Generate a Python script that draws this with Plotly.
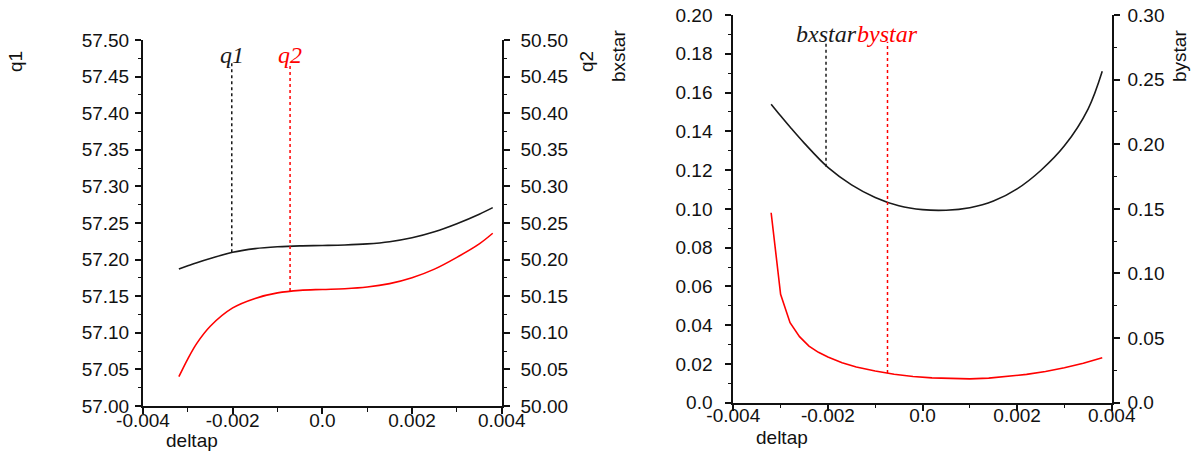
import numpy as np
import plotly.graph_objects as go

# ---------------- data ----------------
deltap = [-0.0032, -0.003, -0.0028, -0.0025, -0.002, -0.0015, -0.001, -0.0005,
          0.0, 0.0005, 0.001, 0.0015, 0.002, 0.0025, 0.003, 0.0035, 0.0038]
q1 = [57.187, 57.1915, 57.1958, 57.2015, 57.2100, 57.2150, 57.2175, 57.2188,
      57.2193, 57.2200, 57.2215, 57.2245, 57.2298, 57.238, 57.249, 57.262, 57.271]
q2 = [50.040, 50.0645, 50.0856, 50.109, 50.134, 50.147, 50.1545, 50.158,
      50.1592, 50.1602, 50.1625, 50.1672, 50.1752, 50.187, 50.2031, 50.2215, 50.236]
bxstar = [0.1540, 0.1480, 0.1422, 0.1339, 0.1214, 0.1124, 0.1059, 0.1016,
          0.0996, 0.0993, 0.1006, 0.1040, 0.1103, 0.1198, 0.1325, 0.1515, 0.1710]

deltap_by = [-0.0032, -0.003, -0.0028, -0.0026, -0.0024, -0.0022, -0.002, -0.0017,
             -0.0014, -0.001, -0.0006, -0.0002, 0.0002, 0.0006, 0.001, 0.0014,
             0.0018, 0.0022, 0.0026, 0.003, 0.0034, 0.0038]
bystar = [0.1470, 0.0839, 0.0619, 0.0511, 0.0438, 0.0390, 0.0353, 0.0310,
          0.0276, 0.0245, 0.0220, 0.0203, 0.0192, 0.0186, 0.0184, 0.0190,
          0.0202, 0.0219, 0.0242, 0.0270, 0.0305, 0.0348]

# label drop lines: x position, bottom (on curve), top (under label)
q_drop_x = [-0.00202, -0.00072]
q_drop_bottom = [57.210, 50.157]
q_drop_top = [57.469, 50.469]
q_labels = ["q1", "q2"]

b_drop_x = [-0.00204, -0.00074]
b_drop_bottom = [0.1217, 0.0229]
b_drop_top = [0.1862, 0.2793]
b_labels = ["bxstar", "bystar"]

x_tickvals = [-0.004, -0.002, 0.0, 0.002, 0.004]
x_ticktext = ["-0.004", "-0.002", "0.0", "0.002", "0.004"]
q1_tickvals = [57.00, 57.05, 57.10, 57.15, 57.20, 57.25, 57.30, 57.35, 57.40, 57.45, 57.50]
q1_ticktext = ["57.00", "57.05", "57.10", "57.15", "57.20", "57.25", "57.30", "57.35", "57.40", "57.45", "57.50"]
q2_tickvals = [50.00, 50.05, 50.10, 50.15, 50.20, 50.25, 50.30, 50.35, 50.40, 50.45, 50.50]
q2_ticktext = ["50.00", "50.05", "50.10", "50.15", "50.20", "50.25", "50.30", "50.35", "50.40", "50.45", "50.50"]
bx_tickvals = [0.0, 0.02, 0.04, 0.06, 0.08, 0.10, 0.12, 0.14, 0.16, 0.18, 0.20]
bx_ticktext = ["0.0", "0.02", "0.04", "0.06", "0.08", "0.10", "0.12", "0.14", "0.16", "0.18", "0.20"]
by_tickvals = [0.0, 0.05, 0.10, 0.15, 0.20, 0.25, 0.30]
by_ticktext = ["0.0", "0.05", "0.10", "0.15", "0.20", "0.25", "0.30"]

# ---------------- figure ----------------
W, H = 1196, 452
BLACK = "#1a1a1a"
RED = "#ff0000"
SANS = "Liberation Sans, Arial, sans-serif"
SERIF = "Liberation Serif, Times New Roman, serif"

fig = go.Figure()

# left chart
fig.add_trace(go.Scatter(x=deltap, y=q1, mode="lines", line=dict(color=BLACK, width=1.6, shape="spline"),
                         xaxis="x", yaxis="y"))
fig.add_trace(go.Scatter(x=deltap, y=q2, mode="lines", line=dict(color=RED, width=1.6, shape="spline"),
                         xaxis="x", yaxis="y2"))
fig.add_trace(go.Scatter(x=[q_drop_x[0]] * 2, y=[q_drop_bottom[0], q_drop_top[0]], mode="lines",
                         line=dict(color=BLACK, width=1.5, dash="dot"), xaxis="x", yaxis="y"))
fig.add_trace(go.Scatter(x=[q_drop_x[1]] * 2, y=[q_drop_bottom[1], q_drop_top[1]], mode="lines",
                         line=dict(color=RED, width=1.5, dash="dot"), xaxis="x", yaxis="y2"))

# right chart
fig.add_trace(go.Scatter(x=deltap, y=bxstar, mode="lines", line=dict(color=BLACK, width=1.6, shape="spline"),
                         xaxis="x3", yaxis="y3"))
fig.add_trace(go.Scatter(x=deltap_by, y=bystar, mode="lines", line=dict(color=RED, width=1.6),
                         xaxis="x3", yaxis="y4"))
fig.add_trace(go.Scatter(x=[b_drop_x[0]] * 2, y=[b_drop_bottom[0], b_drop_top[0]], mode="lines",
                         line=dict(color=BLACK, width=1.5, dash="dot"), xaxis="x3", yaxis="y3"))
fig.add_trace(go.Scatter(x=[b_drop_x[1]] * 2, y=[b_drop_bottom[1], b_drop_top[1]], mode="lines",
                         line=dict(color=RED, width=1.5, dash="dot"), xaxis="x3", yaxis="y4"))

tickfont = dict(family=SANS, size=19, color="#111111")
axis_common = dict(showgrid=False, zeroline=False, showline=True, linecolor="#111111", linewidth=2,
                   ticks="outside", ticklen=6, tickwidth=1.6, tickcolor="#111111", tickfont=tickfont,
                   automargin=False)


def minor_ticks(lo, hi, step):
    return dict(tickmode="array", tickvals=list(np.round(np.arange(lo, hi + step / 2, step), 6)),
                ticks="outside", ticklen=3.5, tickwidth=1.4, tickcolor="#111111", showgrid=False)


def top_ticks(lo, hi, step):
    return list(np.round(np.arange(lo, hi + step / 2, step), 6))


dL = [143 / W, 501.7 / W]
dLy = [1 - 406 / H, 1 - 40 / H]
dR = [733.3 / W, 1111.7 / W]
dRy = [1 - 402.7 / H, 1 - 15 / H]

top_common = dict(showgrid=False, zeroline=False, showline=True, linecolor="#111111", linewidth=2,
                  side="top", range=[-0.004, 0.004], tickmode="array",
                  tickvals=top_ticks(-0.004, 0.004, 0.0005), showticklabels=False,
                  ticks="inside", ticklen=4, tickwidth=1.4, tickcolor="#111111", automargin=False)

fig.update_layout(
    width=W, height=H, margin=dict(l=0, r=0, t=0, b=0, autoexpand=False),
    paper_bgcolor="white", plot_bgcolor="white", showlegend=False,
    xaxis=dict(axis_common, domain=dL, anchor="y", range=[-0.004, 0.004],
               tickmode="array", tickvals=x_tickvals, ticktext=x_ticktext,
               minor=minor_ticks(-0.004, 0.004, 0.001), ticklabelstandoff=-10),
    xaxis2=dict(top_common, overlaying="x", anchor="y"),
    yaxis=dict(axis_common, domain=dLy, anchor="x", range=[57.0, 57.5],
               tickmode="array", tickvals=q1_tickvals, ticktext=q1_ticktext,
               minor=minor_ticks(57.0, 57.5, 0.025), ticklabelstandoff=2),
    yaxis2=dict(axis_common, overlaying="y", side="right", anchor="x", range=[50.0, 50.5],
                tickmode="array", tickvals=q2_tickvals, ticktext=q2_ticktext,
                minor=minor_ticks(50.0, 50.5, 0.025), ticklabelstandoff=7),
    xaxis3=dict(axis_common, domain=dR, anchor="y3", range=[-0.004, 0.004],
                tickmode="array", tickvals=x_tickvals, ticktext=x_ticktext,
                minor=minor_ticks(-0.004, 0.004, 0.001), ticklabelstandoff=-12),
    xaxis4=dict(top_common, overlaying="x3", anchor="y3"),
    yaxis3=dict(axis_common, domain=dRy, anchor="x3", range=[0.0, 0.2],
                tickmode="array", tickvals=bx_tickvals, ticktext=bx_ticktext,
                minor=minor_ticks(0.0, 0.2, 0.01), ticklabelstandoff=9),
    yaxis4=dict(axis_common, overlaying="y3", side="right", anchor="x3", range=[0.0, 0.3],
                tickmode="array", tickvals=by_tickvals, ticktext=by_ticktext,
                minor=minor_ticks(0.0, 0.3, 0.025), ticklabelstandoff=4),
)

ann = []
# curve labels above drop lines
for xv, yv, xr, yr, lab, col in [(q_drop_x[0], q_drop_top[0], "x", "y", q_labels[0], BLACK),
                                 (q_drop_x[1], q_drop_top[1], "x", "y2", q_labels[1], RED),
                                 (b_drop_x[0], b_drop_top[0], "x3", "y3", b_labels[0], BLACK),
                                 (b_drop_x[1], b_drop_top[1], "x3", "y4", b_labels[1], RED)]:
    ann.append(dict(x=xv, y=yv, xref=xr, yref=yr, text="<i>" + lab + "</i>",
                    showarrow=False, xanchor="center", yanchor="bottom", yshift=-7,
                    font=dict(family=SERIF, size=24, color=col)))

# axis titles
titlefont = dict(family=SANS, size=19, color="#111111")
for txt, px, py, ang in [("q1", 16, 62, -90), ("q2", 587, 62, -90),
                         ("bxstar", 619, 56, -90), ("bystar", 1180, 56, -90),
                         ("deltap", 191.7, 440.5, 0), ("deltap", 782, 437.5, 0)]:
    ann.append(dict(x=px / W, y=1 - py / H, xref="paper", yref="paper", text=txt, showarrow=False,
                    xanchor="center", yanchor="middle", textangle=ang, font=titlefont))

fig.update_layout(annotations=ann)
fig.write_html("out.html", config={"displayModeBar": False},
               post_script="document.body.style.margin='0';document.body.style.overflow='hidden';")
